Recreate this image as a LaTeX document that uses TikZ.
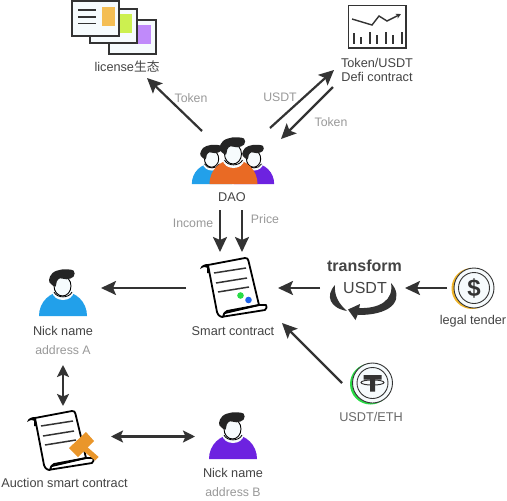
\documentclass[tikz,border=0pt]{standalone}
\usepackage{fontspec}
\setmainfont{Liberation Sans}
\newfontfamily\cjk{Noto Sans CJK SC}
\usetikzlibrary{arrows.meta}
\definecolor{ink}{HTML}{333333}
\definecolor{txt}{HTML}{444444}
\definecolor{mut}{HTML}{999999}
\definecolor{paper}{HTML}{F6FBFD}
\definecolor{blueb}{HTML}{22A0EA}
\definecolor{orangeb}{HTML}{E96A24}
\definecolor{purpleb}{HTML}{6D22E0}
\definecolor{gavel}{RGB}{234,150,42}
\definecolor{coingreen}{RGB}{40,220,70}
\tikzset{
  x=1pt,y=-1pt,
  link/.style={draw=ink,line width=2.2pt,-{Stealth[length=15pt,width=14pt,inset=3pt]}},
  linkboth/.style={draw=ink,line width=2.2pt,{Stealth[length=12pt,width=12pt,inset=2.5pt]}-{Stealth[length=12pt,width=12pt,inset=2.5pt]}},
  lab/.style={text=txt,font=\fontsize{12.7}{14}\selectfont,inner sep=0pt},
  mutlab/.style={text=mut,font=\fontsize{12.3}{14}\selectfont,inner sep=0pt},
  card/.style={draw=ink,line width=1.6pt,fill=paper},
  pics/person/.style={code={
    \fill[#1] (-24,0) .. controls (-24,-14) and (-13,-24.5) .. (0,-24.5) .. controls (13,-24.5) and (24,-14) .. (24,0) -- cycle;
    \fill[paper] (-11,-25) .. controls (-10,-13) and (10,-13) .. (11,-25) -- cycle;
    \draw[black,line width=.8pt] (-9,-24) .. controls (-6,-17.5) and (6,-17.5) .. (9,-24);
    \draw[black,fill=paper,line width=.9pt] (-.5,-30) ellipse [x radius=8.5,y radius=10];
    \fill[ink!70!black] plot[smooth cycle,tension=.6] coordinates {(-14,-36) (-10.5,-43) (-1.3,-46.5) (10.5,-45.5) (10.5,-39.3) (3.7,-36.7) (-3,-37.7) (-6.3,-34.3) (-7.5,-29.3) (-12,-32)};
  }},
  pics/scroll/.style={code={
    \draw[black,fill=white,line width=1.8pt,line join=round] (-25,-12) -- (-25,-20) -- (12,-27) .. controls (14,-27.5) and (15,-26) .. (15.5,-24) -- (26,20) -- (-8,28);
    \fill[black] (-33,-16) .. controls (-32,-20) and (-28,-21) .. (-25,-21) -- (-25,-17) .. controls (-27,-19) and (-30,-18) .. (-33,-16) -- cycle;
    \draw[black,line width=1.8pt,line join=round] (-25,-20) -- (-16,27) .. controls (-15,31) and (-11,33) .. (-9,31.5) -- (32,25) .. controls (34,24) and (34,21) .. (33,20) -- (26,20) -- (-6,26) .. controls (-8,27) and (-10,29) .. (-10,32);
    \draw[ink,line width=1.5pt] (-19,-12) -- (13,-17) (-17,-2) -- (14,-7) (-15,7) -- (16,2);
  }},
}
\begin{document}
\begin{tikzpicture}
\useasboundingbox (0,0) rectangle (507,501);
\fill[white] (0,0) rectangle (507,501);

% license cards
\draw[card] (109,20) rectangle (156,54);
\fill[fill={rgb,255:red,192;green,138;blue,250}] (137,25) rectangle (151,44);
\draw[card] (90,9) rectangle (137,43);
\fill[fill={rgb,255:red,204;green,240;blue,80}] (119,14) rectangle (132,33);
\draw[card] (72,1) rectangle (119,36);
\fill[fill={rgb,255:red,244;green,190;blue,84}] (102,7) rectangle (115,26);
\draw[ink,line width=1.3pt] (78,10) -- (96,10) (78,17) -- (96,17) (78,23.5) -- (96,23.5);
\node[lab] (license) at (127,67) {license{\cjk 生态}};

% chart
\draw[ink,line width=1.6pt,fill=white] (348.5,5.5) rectangle (406,48);
\draw[ink,line width=1.4pt,-{Stealth[length=5pt,width=5pt]}] (352,19) -- (372,25) -- (379,16) -- (387,21) -- (401,14);
\draw[ink,line width=1.3pt] (354,33) -- (354,44) (361,37) -- (361,44) (370,32) -- (370,44) (377,35) -- (377,44) (386,32) -- (386,44) (393,35) -- (393,44) (402,32) -- (402,44);
\node[lab] (token) at (377,63) {Token/USDT};
\node[lab] (defi) at (377,77) {Defi contract};

% DAO group
\pic[scale=.84] at (212,184) {person=blueb};
\pic[scale=.84] at (254,184) {person=purpleb};
\pic at (233.5,184) {person=orangeb};
\node[lab] (dao) at (232,197) {DAO};

% smart contract
\pic at (233,285) {scroll};
\fill[coingreen] (240.5,295.5) circle (3.3);
\fill[fill={rgb,255:red,30;green,100;blue,235}] (248.5,300) circle (3.3);
\node[lab] (smart) at (233,331) {Smart contract};

% auction contract
\pic at (60,438) {scroll};
\fill[gavel] (86,432) -- (94,441) -- (78,457) -- (69,448) -- cycle;
\fill[gavel] (85,445) -- (98.7,457) -- (95,460.5) -- (81,449) -- cycle;
\node[lab] (auction) at (64.5,483) {Auction smart contract};

% people
\pic at (63,316) {person=blueb};
\node[lab] (nickA) at (63,331) {Nick name};
\node[mutlab] (addrA) at (63,350) {address A};
\pic at (233,459) {person=purpleb};
\node[lab] (nickB) at (233,473) {Nick name};
\node[mutlab] (addrB) at (233,492) {address B};

% transform
\node[text=txt,inner sep=0pt,font=\fontsize{16}{18}\selectfont\bfseries] (transform) at (364.5,266) {transform};
\node[text=txt,inner sep=0pt,font=\fontsize{16}{18}\selectfont] (usdtc) at (365,288) {USDT};
\fill[ink] (335,285) .. controls (325,296) and (330,308) .. (347,311) .. controls (339,304) and (334,296) .. (335,285) -- cycle;
\fill[ink] (391,283) .. controls (403,296) and (397,315) .. (358,315) -- (358,308) .. controls (380,309) and (394,300) .. (391,283) -- cycle;
\fill[ink] (348,309.5) -- (360,304) -- (358,314) -- (355.5,320) -- cycle;

% legal tender coin
\fill[fill={rgb,255:red,240;green,180;blue,40}] (472,288.5) circle (20.5);
\draw[ink,fill=paper,line width=.9pt] (474,288) circle (20);
\draw[ink,line width=.9pt] (474,288) circle (15.5);
\node[text=ink,inner sep=0pt,font=\fontsize{24}{24}\selectfont\bfseries] (dollar) at (474,288) {\$};
\node[lab] (legal) at (473,321) {legal tender};

% tether coin
\fill[coingreen] (370.5,384) circle (20.5);
\draw[ink,fill=paper,line width=.9pt] (372.5,383) circle (20);
\draw[ink,line width=.9pt] (372.5,383) circle (15.5);
\fill[ink] (363.5,375) rectangle (381.5,379.5) (370,375) rectangle (375,391.5);
\draw[ink,line width=1pt] (372.5,382.5) ellipse [x radius=11.5,y radius=2.6];
\node[lab,text=txt!80!white] (usdteth) at (371,417) {USDT/ETH};

% edge labels
\node[mutlab] (l1) at (191,98) {Token};
\node[mutlab] (l2) at (280,97) {USDT};
\node[mutlab] (l3) at (331,122) {Token};
\node[mutlab] (l4) at (193,223) {Income};
\node[mutlab] (l5) at (265,219) {Price};

% connector ends
\coordinate (daoNW) at (202,131);
\coordinate (licS) at (147,78);
\coordinate (daoNE) at (270,128);
\coordinate (tokSW) at (334,70);
\coordinate (tokS) at (333,87);
\coordinate (daoE) at (281,139);
\coordinate (incTop) at (220,210);
\coordinate (incEnd) at (220,252);
\coordinate (priTop) at (242,210);
\coordinate (priEnd) at (242,252);
\coordinate (smW) at (186,288);
\coordinate (aE) at (101,288);
\coordinate (trW) at (320,288);
\coordinate (smE) at (278,288);
\coordinate (coinW) at (447,288);
\coordinate (trE) at (405,288);
\coordinate (tetNW) at (342,383);
\coordinate (smSE) at (282,323);
\coordinate (aS) at (63,365);
\coordinate (auN) at (63,406);
\coordinate (auE) at (111,436.5);
\coordinate (bW) at (195,436.5);

\draw[link] (daoNW) -- (licS);
\draw[link] (daoNE) -- (tokSW);
\draw[link] (tokS) -- (daoE);
\draw[link] (incTop) -- (incEnd);
\draw[link] (priTop) -- (priEnd);
\draw[link] (smW) -- (aE);
\draw[link] (trW) -- (smE);
\draw[link] (coinW) -- (trE);
\draw[link] (tetNW) -- (smSE);
\draw[linkboth] (aS) -- (auN);
\draw[linkboth] (auE) -- (bW);
\end{tikzpicture}
\end{document}
